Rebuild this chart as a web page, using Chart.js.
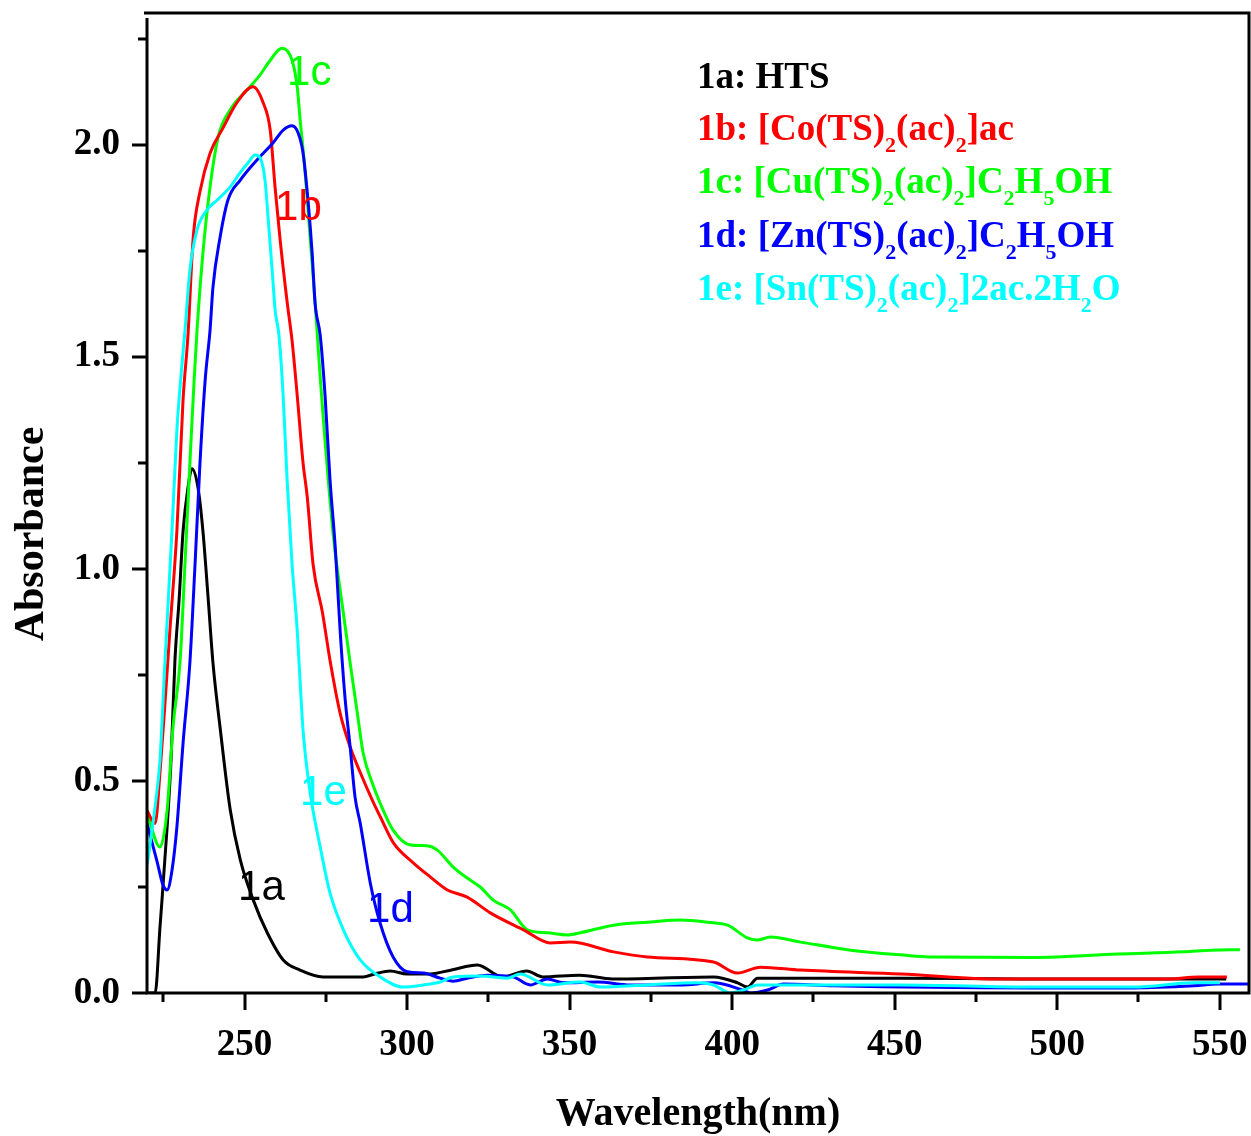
<!DOCTYPE html>
<html><head><meta charset="utf-8">
<script src="https://cdn.jsdelivr.net/npm/chart.js@4.4.1/dist/chart.umd.min.js"></script>
<style>html,body{margin:0;padding:0;background:#fff;} #wrap{width:1251px;height:1136px;position:relative;}</style>
</head><body><div id="wrap"><canvas id="c"></canvas></div>
<script>
// ---- Data ----
const wl1a = [220,222.5,224.0,226.2,227.4,228.6,229.9,231.1,232.6,233.8,235.7,237.2,238.8,240.3,242.5,245.6,248.7,252.7,257.0,261.9,267.1,274.2,286.5,290,294.8,300.0,307.1,314,321.6,329.4,336.8,341.7,353.1,363.2,394.3,401.7,404.7,407.8,451.9,488.8,552];
const abs1a = [0,0,0.156,0.392,0.55,0.785,0.93,1.09,1.191,1.236,1.191,1.09,0.932,0.778,0.625,0.432,0.314,0.219,0.142,0.078,0.054,0.038,0.038,0.045,0.052,0.045,0.045,0.055,0.066,0.038,0.052,0.038,0.042,0.033,0.038,0.024,0.014,0.035,0.035,0.033,0.033];

const wl1b = [220,222.5,224,225.5,227,229.2,231.1,232.6,234.2,236.3,239.4,243.4,247.7,252.6,255.7,257.9,259.4,260.9,263.1,264.6,266.2,268.0,269.3,271.1,273.9,276.4,279.4,282.5,285.6,289.3,291.8,295.8,301.9,307.1,312.4,318.5,325.6,335.8,344.1,350.2,363.5,373.9,394.3,401.6,408.7,421.1,451.9,482.6,534.1,543.3,552.2];
const abs1b = [0.43,0.40,0.52,0.68,0.85,1.09,1.40,1.55,1.78,1.89,1.98,2.04,2.10,2.137,2.10,2.035,1.90,1.78,1.63,1.54,1.41,1.25,1.17,1.01,0.90,0.78,0.66,0.58,0.52,0.455,0.415,0.354,0.307,0.274,0.243,0.226,0.189,0.149,0.118,0.120,0.097,0.085,0.073,0.047,0.061,0.054,0.045,0.033,0.033,0.038,0.038];

const wl1c = [220,224,226.2,228,230.2,231.7,233.2,234.5,235.4,237.2,239.4,241.9,245.6,251.7,254.8,257.3,261.6,264.6,266.2,267.1,268.6,270.2,271.7,273.3,277.3,280.4,282.5,284.7,286.5,289.3,291.7,295.7,301,306.2,309.3,314.2,318.5,322.5,326.5,331.8,337,343.2,349.3,353.3,363.5,374,384.1,392.4,398.6,404.7,407.8,411.8,421.1,436.5,451.9,462,492.8,518.7,539,547.3,556.2];
const abs1c = [0.425,0.344,0.432,0.627,0.785,1.014,1.25,1.446,1.564,1.745,1.901,2.019,2.083,2.137,2.165,2.193,2.228,2.20,2.137,2.06,1.94,1.78,1.63,1.45,1.08,0.896,0.778,0.66,0.566,0.495,0.448,0.384,0.349,0.347,0.337,0.297,0.271,0.25,0.219,0.196,0.149,0.142,0.137,0.142,0.16,0.167,0.172,0.167,0.16,0.13,0.125,0.132,0.12,0.101,0.09,0.085,0.084,0.092,0.097,0.101,0.102];

const wl1d = [220,223.1,224.9,226.2,227.7,229.2,231.1,233.2,234.8,236.3,237.9,239.4,240.3,242.5,244.9,248.7,253.9,258.8,261.9,264.6,266.5,268,269.6,270.8,271.7,273.3,274.8,276.3,277.9,279.4,280.9,282.5,284,285.6,288.7,291.7,295.7,300.1,305,310.2,314.2,318.5,324.6,332.6,337.9,343.2,348.1,358.6,368.7,384.1,394.3,403.2,405.7,410.9,415.8,431.2,492.8,523.6,542.1,549.5,558.7];
const abs1d = [0.40,0.31,0.255,0.243,0.29,0.392,0.59,0.78,1.014,1.25,1.446,1.564,1.665,1.783,1.87,1.917,1.965,2.005,2.035,2.045,2.028,1.981,1.863,1.745,1.627,1.55,1.406,1.21,1.052,0.856,0.698,0.58,0.462,0.40,0.259,0.165,0.085,0.05,0.047,0.035,0.028,0.035,0.042,0.038,0.019,0.033,0.024,0.026,0.019,0.019,0.024,0.007,0,0.007,0.021,0.017,0.012,0.012,0.017,0.021,0.021];

const wl1e = [220,222.5,224,225.5,227.7,229.2,230.8,231.7,233.2,235.4,238.5,241.6,245.6,248.6,251.1,253.3,254.8,256.3,257.3,258.5,259.4,260.6,261.9,263.1,264.6,266.2,266.9,268,270.2,273.3,276.3,280.4,285.6,291.7,298.8,305,310.2,314.2,322.5,330.8,334.8,343.2,353.3,359.5,373.9,389.4,394.3,399.5,403.5,407.8,451.9,492.8,523.6,542.1,550.1];
const abs1e = [0.30,0.44,0.55,0.778,1.092,1.328,1.486,1.564,1.705,1.80,1.847,1.87,1.901,1.934,1.958,1.976,1.969,1.917,1.823,1.705,1.611,1.55,1.406,1.21,1.014,0.856,0.762,0.62,0.472,0.344,0.236,0.149,0.078,0.038,0.014,0.019,0.026,0.038,0.040,0.035,0.045,0.019,0.026,0.014,0.019,0.024,0.019,0,0.007,0.019,0.019,0.014,0.014,0.024,0.024];

const xMajorTicks = [250,300,350,400,450,500,550];
const xMinorTicks = [225,275,325,375,425,475,525];
const yMajorTicks = [0,0.5,1.0,1.5,2.0];
const yMinorTicks = [0.25,0.75,1.25,1.75,2.25];

const seriesNames = ['1a','1b','1c','1d','1e'];
const seriesColors = ['#000000','#ff0000','#00ff00','#0000ff','#00ffff'];
// legend entries: [text, isSubscript] runs
const legendRuns = [
  [['1a: HTS',0]],
  [['1b: [Co(TS)',0],['2',1],['(ac)',0],['2',1],[']ac',0]],
  [['1c: [Cu(TS)',0],['2',1],['(ac)',0],['2',1],[']C',0],['2',1],['H',0],['5',1],['OH',0]],
  [['1d: [Zn(TS)',0],['2',1],['(ac)',0],['2',1],[']C',0],['2',1],['H',0],['5',1],['OH',0]],
  [['1e: [Sn(TS)',0],['2',1],['(ac)',0],['2',1],[']2ac.2H',0],['2',1],['O',0]]
];
// curve tag anchors in data units (wavelength, absorbance)
const tagX = [248.0, 259.4, 263.1, 287.7, 267.1];
const tagY = [0.219, 1.823, 2.142, 0.167, 0.443];

const allWl = [wl1a,wl1b,wl1c,wl1d,wl1e];
const allAbs = [abs1a,abs1b,abs1c,abs1d,abs1e];
const drawOrder = [4,2,3,1,0];

const datasets = seriesNames.map((n,i)=>({
  label:n,
  data: allWl[i].map((x,k)=>({x:x, y:allAbs[i][k]})),
  borderColor: seriesColors[i],
  backgroundColor: seriesColors[i],
  borderWidth: 3,
  pointRadius: 0,
  fill:false,
  cubicInterpolationMode:'monotone',
  order: drawOrder[i]
}));

const SERIF = '"Liberation Serif","Times New Roman",serif';
const SANS = '"Liberation Sans",Arial,sans-serif';

function noPad(s){ s.paddingLeft=0; s.paddingRight=0; s.paddingTop=0; s.paddingBottom=0; }

const decor = {
  id:'decor',
  afterDatasetsDraw(chart){
    const {ctx, chartArea:a, scales:{x,y}} = chart;
    ctx.save();
    ctx.strokeStyle='#000'; ctx.lineWidth=3; ctx.lineCap='butt';
    ctx.beginPath();
    ctx.moveTo(a.left-3, a.top); ctx.lineTo(a.right+1.5, a.top);
    ctx.moveTo(a.right, a.top); ctx.lineTo(a.right, a.bottom);
    ctx.moveTo(a.left, a.top+5); ctx.lineTo(a.left, a.bottom+1.5);
    ctx.moveTo(a.left-1.5, a.bottom); ctx.lineTo(a.right+1.5, a.bottom);
    ctx.stroke();
    // tick marks
    ctx.beginPath();
    xMajorTicks.forEach(v=>{const p=Math.round(x.getPixelForValue(v)); ctx.moveTo(p,a.bottom); ctx.lineTo(p,a.bottom+17);});
    xMinorTicks.forEach(v=>{const p=Math.round(x.getPixelForValue(v)); ctx.moveTo(p,a.bottom); ctx.lineTo(p,a.bottom+9);});
    yMajorTicks.forEach(v=>{const p=Math.round(y.getPixelForValue(v)); ctx.moveTo(a.left,p); ctx.lineTo(a.left-15,p);});
    yMinorTicks.forEach(v=>{const p=Math.round(y.getPixelForValue(v)); ctx.moveTo(a.left,p); ctx.lineTo(a.left-9,p);});
    ctx.stroke();
    // axis titles
    ctx.fillStyle='#000';
    ctx.font='bold 40px '+SERIF;
    ctx.textAlign='center'; ctx.textBaseline='alphabetic';
    ctx.fillText('Wavelength(nm)', (a.left+a.right)/2, 1125);
    ctx.save();
    ctx.translate(43, 534); ctx.rotate(-Math.PI/2);
    ctx.font='bold 42px '+SERIF;
    ctx.fillText('Absorbance', 0, 0);
    ctx.restore();
    // legend
    const lx = 697, lBase=[88,140,193,247,300];
    ctx.textAlign='left';
    legendRuns.forEach((runs,i)=>{
      let cx = lx;
      ctx.fillStyle = seriesColors[i];
      runs.forEach(([t,sub])=>{
        ctx.font = sub ? 'bold 22px '+SERIF : 'bold 37px '+SERIF;
        ctx.fillText(t, cx, lBase[i] + (sub?12:0));
        cx += ctx.measureText(t).width;
      });
    });
    // curve tags
    ctx.font='42px '+SANS;
    seriesNames.forEach((n,i)=>{
      ctx.fillStyle = seriesColors[i];
      ctx.fillText(n, x.getPixelForValue(tagX[i]), y.getPixelForValue(tagY[i]));
    });
    ctx.restore();
  }
};

new Chart(document.getElementById('c'), {
  type:'line',
  data:{datasets},
  options:{
    responsive:true, maintainAspectRatio:false, animation:false,
    layout:{padding:{top:13,right:2,left:0,bottom:0}, autoPadding:false},
    plugins:{legend:{display:false}, tooltip:{enabled:false}},
    scales:{
      x:{type:'linear', min:220, max:559,
        afterBuildTicks:s=>{s.ticks = xMajorTicks.map(v=>({value:v}));},
        afterFit:s=>{s.height=143; noPad(s);},
        grid:{display:false, drawTicks:false}, border:{display:false},
        ticks:{padding:30, color:'#000', maxRotation:0, minRotation:0, autoSkip:false,
          font:{family:SERIF, size:37, weight:'bold'}, callback:v=>String(v)}},
      y:{type:'linear', min:0, max:2.311,
        afterBuildTicks:s=>{s.ticks = yMajorTicks.map(v=>({value:v}));},
        afterFit:s=>{s.width=147; noPad(s);},
        grid:{display:false, drawTicks:false}, border:{display:false},
        ticks:{padding:27, color:'#000', font:{family:SERIF, size:37, weight:'bold'},
          callback:v=>Number(v).toFixed(1)}}
    }
  },
  plugins:[decor]
});
</script></body></html>
